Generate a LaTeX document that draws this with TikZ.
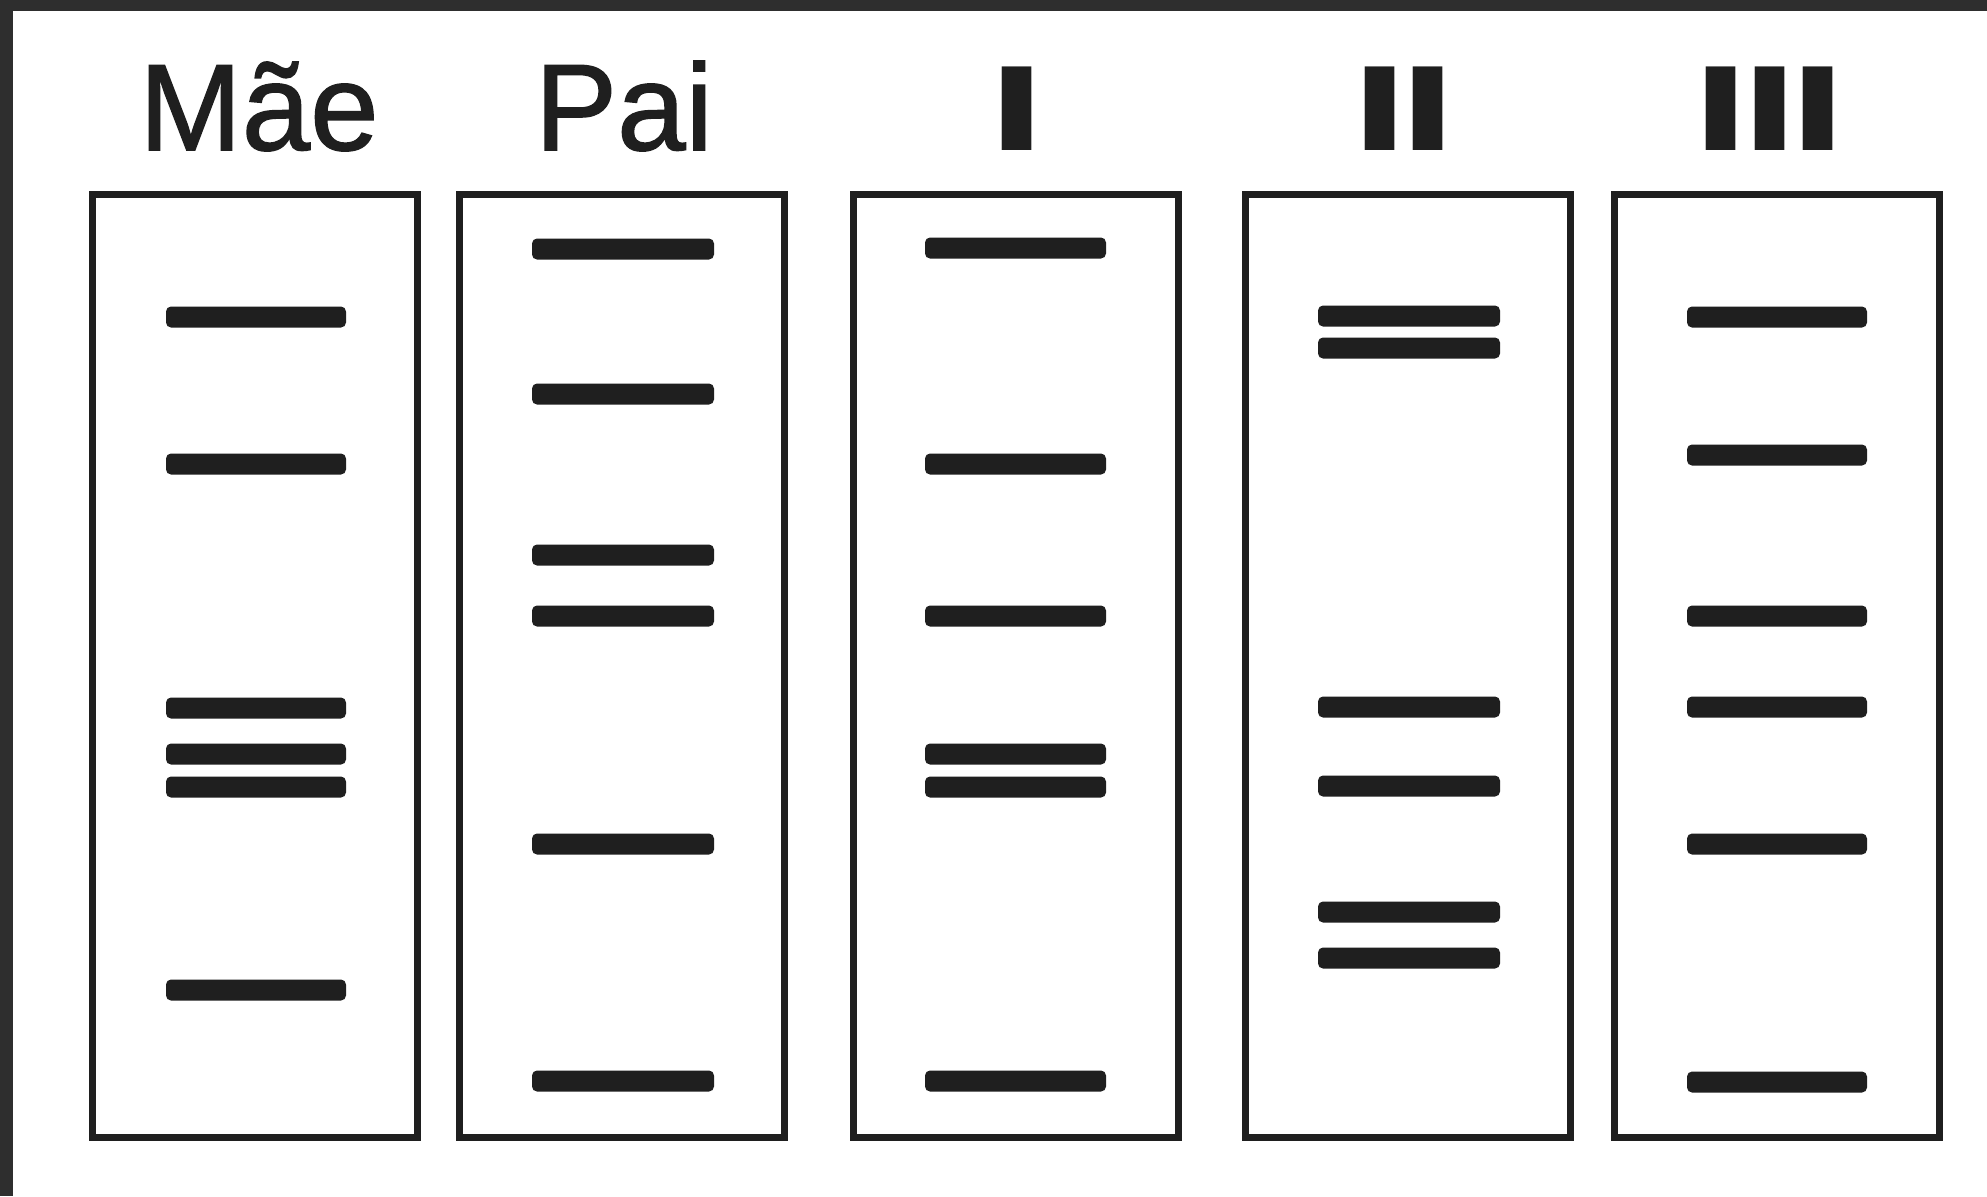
\documentclass[tikz,border=0pt]{standalone}
\usepackage{fontspec}
\setmainfont{Liberation Sans}
\newfontfamily\lblfont{Liberation Sans}[FakeBold=1.2]
\newfontfamily\romanfont{Liberation Sans Bold}[FakeStretch=1.69]
\begin{document}
\begin{tikzpicture}[x=0.5pt,y=-0.5pt,
  lanebox/.style={draw=black!88, line width=3.5pt, minimum width=162.5pt, minimum height=471.5pt, inner sep=0pt},
  band/.style={fill=black!88, rounded corners=2.5pt},
  lbl/.style={anchor=base, inner sep=0pt, font=\lblfont\fontsize{61.5pt}{70pt}\selectfont, text=black!88},
  rlbl/.style={anchor=base, inner sep=0pt, font=\romanfont\fontsize{60.75pt}{70pt}\selectfont, text=black!88}]
\useasboundingbox (0,0) rectangle (1987,1196);
\fill[white] (0,0) rectangle (1987,1196);
\fill[black!82] (0,0) rectangle (1987,11);
\fill[black!82] (0,0) rectangle (13,1196);

% lanes
\node[lanebox] (mae) at (254.5,665.5) {};
\node[lanebox] (pai) at (622,665.5) {};
\node[lanebox] (f1)  at (1015.5,665.5) {};
\node[lanebox] (f2)  at (1408,665.5) {};
\node[lanebox] (f3)  at (1776.5,665.5) {};

% titles
\node[lbl] (tmae) at (259,150) {Mãe};
\node[lbl] (tpai) at (624,150) {Pai};
\node[rlbl] (tf1) at (1017,150) {I};
\node[rlbl] (tf2) at (1404,150) {I\kern-4.5pt I};
\node[rlbl] (tf3) at (1769.5,150) {I\kern-4.5pt I\kern-4.5pt I};

% bands
\foreach \y in {317,464,708,754,787,990}
  \fill[band] (166,\y-10.5) rectangle (346,\y+10.5);
\foreach \y in {249,394,555,616,844,1081}
  \fill[band] (532,\y-10.5) rectangle (714,\y+10.5);
\foreach \y in {248,464,616,754,787,1081}
  \fill[band] (925,\y-10.5) rectangle (1106,\y+10.5);
\foreach \y in {316,348,707,786,912,958}
  \fill[band] (1318,\y-10.5) rectangle (1500,\y+10.5);
\foreach \y in {317,455,616,707,844,1082}
  \fill[band] (1687,\y-10.5) rectangle (1867,\y+10.5);
\end{tikzpicture}
\end{document}
